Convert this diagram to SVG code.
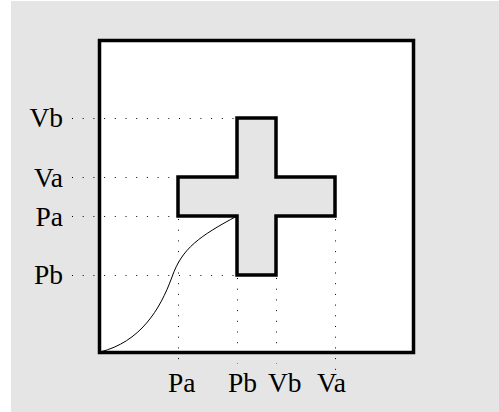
<svg xmlns="http://www.w3.org/2000/svg" width="499" height="412" viewBox="0 0 499 412">
<style>
.lbl{font-family:"Liberation Serif","Times New Roman",serif;font-size:27.5px;fill:#000}
.dot{stroke:#000;stroke-width:1;stroke-dasharray:1 9.7;fill:none}
</style>
<rect x="0" y="0" width="499" height="412" fill="#fff"/>
<rect x="11" y="1" width="488" height="411" fill="#e5e5e5"/>
<g id="frame">
<rect x="99.5" y="40.5" width="314" height="312" fill="#fff" stroke="#000" stroke-width="3.5"/>
</g>
<g id="connectors">
<line class="dot" x1="72" y1="118.5" x2="237" y2="118.5"/>
<line class="dot" x1="72" y1="177.5" x2="178" y2="177.5"/>
<line class="dot" x1="72" y1="216.5" x2="178" y2="216.5"/>
<line class="dot" x1="72" y1="275.5" x2="237" y2="275.5"/>
<line class="dot" x1="178.5" y1="219" x2="178.5" y2="360"/>
<line class="dot" x1="237.5" y1="278" x2="237.5" y2="364"/>
<line class="dot" x1="276.5" y1="278" x2="276.5" y2="364"/>
<line class="dot" x1="335.5" y1="219" x2="335.5" y2="370"/>
<path d="M 100 352 C 140 342, 160 310, 172 277 C 182 248, 200 236, 237 216" fill="none" stroke="#000" stroke-width="1"/>
</g>
<g id="cross">
<path d="M237 118 H276 V177 H335 V216 H276 V275 H237 V216 H178 V177 H237 Z" fill="#e5e5e5" stroke="#000" stroke-width="3.5"/>
</g>
<g id="labels">
<text class="lbl" x="63" y="127" text-anchor="end">Vb</text>
<text class="lbl" x="63" y="187" text-anchor="end">Va</text>
<text class="lbl" x="63" y="226" text-anchor="end">Pa</text>
<text class="lbl" x="63" y="284" text-anchor="end">Pb</text>
<text class="lbl" x="168" y="392">Pa</text>
<text class="lbl" x="228" y="392">Pb</text>
<text class="lbl" x="268" y="392">Vb</text>
<text class="lbl" x="317" y="392">Va</text>
</g>
</svg>
